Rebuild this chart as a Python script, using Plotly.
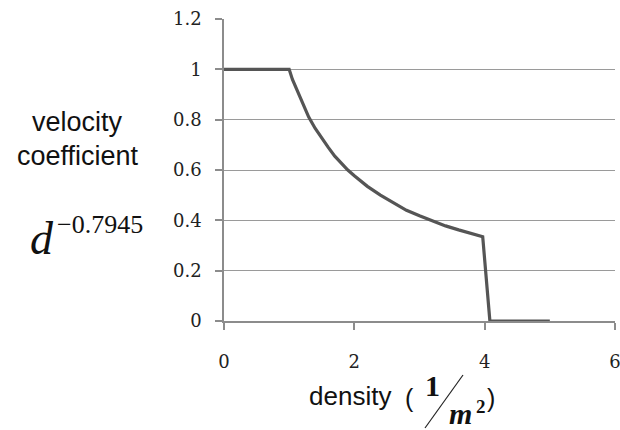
import plotly.graph_objects as go

# data
density = [0, 0.5, 0.98, 1.0, 1.05, 1.1, 1.15, 1.2, 1.3, 1.4, 1.5, 1.6, 1.7, 1.8, 1.9,
           2.0, 2.2, 2.4, 2.6, 2.8, 3.0, 3.2, 3.4, 3.6, 3.8, 3.97, 4.08, 4.5, 5.0]
velocity_coef = [1, 1, 1, 1.0, 0.96, 0.93, 0.895, 0.865, 0.81, 0.765, 0.725, 0.69, 0.655,
                 0.627, 0.60, 0.577, 0.535, 0.50, 0.47, 0.44, 0.418, 0.397, 0.378, 0.362,
                 0.346, 0.335, 0, 0, 0]
x_ticks = [0, 2, 4, 6]
y_ticks = [0, 0.2, 0.4, 0.6, 0.8, 1, 1.2]
y_tick_text = ["0", "0.2", "0.4", "0.6", "0.8", "1", "1.2"]

W, H = 620, 430
L, R, T, B = 224, 5, 19, 109
PW, PH = W - L - R, H - T - B


def px(x):
    return (x - L) / PW


def py(y):
    return (H - B - y) / PH


fig = go.Figure()
fig.add_trace(go.Scatter(x=density, y=velocity_coef, mode="lines",
                         line=dict(color="#555555", width=3.2),
                         hoverinfo="skip", showlegend=False))

tick_font = dict(family="DejaVu Serif", size=18, color="#222222")
fig.update_layout(
    width=W, height=H,
    margin=dict(l=L, r=R, t=T, b=B, pad=0, autoexpand=False),
    paper_bgcolor="white", plot_bgcolor="white",
    showlegend=False,
    xaxis=dict(range=[0, 6], tickvals=x_ticks, ticks="outside", ticklen=7,
               tickcolor="#8c8c8c", tickwidth=1.5, showgrid=False, zeroline=False,
               showline=True, linecolor="#8c8c8c", linewidth=1.5, automargin=False,
               tickfont=tick_font, ticklabelstandoff=17, ticklabeloverflow="allow"),
    yaxis=dict(range=[0, 1.2], tickvals=y_ticks, ticktext=y_tick_text, ticks="outside",
               ticklen=7, tickcolor="#8c8c8c", tickwidth=1.5, showgrid=True,
               gridcolor="#9a9a9a", gridwidth=1.2, zeroline=False, automargin=False,
               showline=True, linecolor="#8c8c8c", linewidth=1.5,
               tickfont=tick_font, ticklabelstandoff=10),
)

sans = "Liberation Sans"
serif = "Liberation Serif"
ann = []


def add(text, x, y, size, family, xanchor="center", yanchor="middle"):
    ann.append(dict(text=text, x=px(x), y=py(y), xref="paper", yref="paper",
                    xanchor=xanchor, yanchor=yanchor, showarrow=False,
                    font=dict(family=family, size=size, color="#111111")))


add("velocity", 77, 122, 27, sans)
add("coefficient", 78, 156, 27, sans)
add("<i>d</i>", 42, 239, 46, serif)
add("−0.7945", 55, 225, 26, serif, xanchor="left")
add("density", 307, 396, 26, sans, xanchor="left")
add("(", 409, 398, 25, sans)
add("<b>1</b>", 432, 385, 30, serif)
add("<b><i>m</i></b>", 460, 413, 30, serif)
add("<b>2</b>", 474, 407, 19, serif, xanchor="left")
add(")", 491, 398, 25, sans)
fig.update_layout(annotations=ann)

fig.add_shape(type="line", xref="paper", yref="paper",
              x0=px(463), y0=py(375), x1=px(425), y1=py(428),
              line=dict(color="#222222", width=1.2))

fig.write_html("out.html", config={"displayModeBar": False},
               post_script="document.body.style.margin='0';document.body.style.overflow='hidden';")
